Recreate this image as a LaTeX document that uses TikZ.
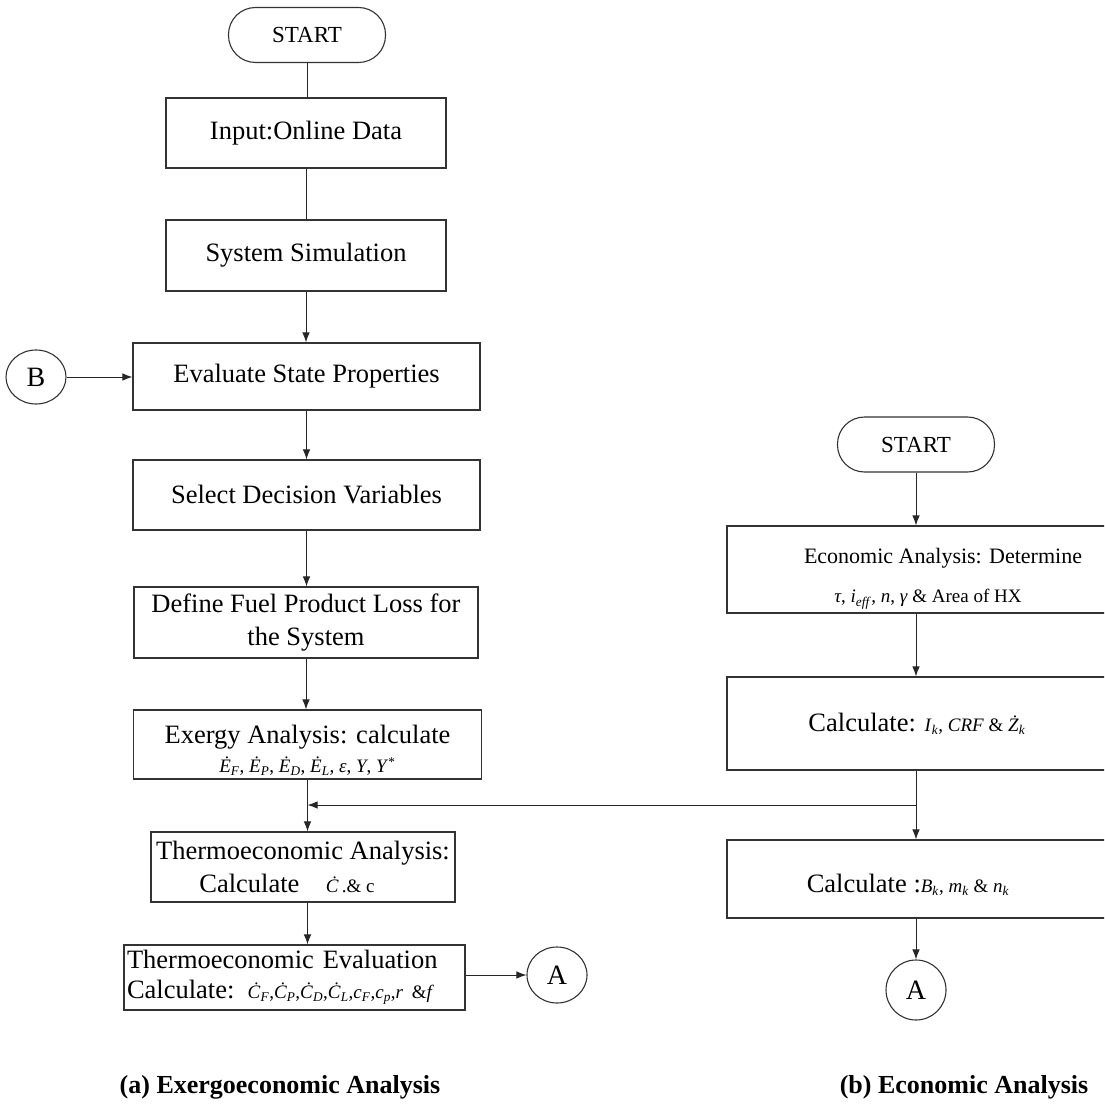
\documentclass[tikz,border=0pt]{standalone}
\usepackage{fontspec}
\setmainfont{Liberation Serif}
\usetikzlibrary{arrows.meta,shapes.geometric}
\newcommand\dE[2]{\textit{\.{#1}}\textsubscript{\textit{#2}}}
\newcommand\sbi[2]{\textit{#1}\textsubscript{\textit{#2}}}
\newcommand\mfont{\fontsize{19}{22}\selectfont}
\begin{document}
\begin{tikzpicture}[x=1pt,y=-1pt,
  box/.style={draw=black!80, line width=1.1pt, rectangle, inner sep=0pt, align=center,
    font=\fontsize{26.5}{33}\selectfont},
  term/.style={draw=black!80, line width=1.1pt, rounded corners=27pt, minimum width=157pt,
    minimum height=55pt, inner sep=0pt, font=\fontsize{23}{26}\selectfont},
  conn/.style={ellipse, draw=black!80, line width=1.1pt, minimum width=60pt, minimum height=54pt,
    inner sep=0pt, font=\fontsize{28}{30}\selectfont},
  arr/.style={-{Latex[length=10pt,width=7.5pt]}, line width=1pt, draw=black!85},
  ln/.style={line width=1pt, draw=black!85},
  captxt/.style={font=\fontsize{26}{30}\selectfont\bfseries}]
\useasboundingbox (0,0) rectangle (1104,1115);
\clip (0,0) rectangle (1104,1115);
% left column
\node[term] (sL) at (307,35) {START};
\node[box, minimum width=280pt, minimum height=70pt] (in) at (306,133) {Input:Online Data};
\node[box, minimum width=280pt, minimum height=71pt] (sim) at (306,255.5) {System Simulation};
\node[box, minimum width=347pt, minimum height=67pt] (ev) at (306.5,376.5) {Evaluate State Properties};
\node[box, minimum width=347pt, minimum height=70pt] (sel) at (306.5,495) {Select Decision Variables};
\node[box, minimum width=344pt, minimum height=71pt] (def) at (306,622.5) {Define Fuel Product Loss for\\the System};
\node[box, minimum width=348pt, minimum height=69pt] (exe) at (307.5,744.5)
  {\rule{0pt}{30pt}Exergy Analysis: calculate\\[-4pt]{\mfont \dE{E}{F}, \dE{E}{P}, \dE{E}{D}, \dE{E}{L}, \textit{ε}, \textit{Y}, \textit{Y}\textsuperscript{*}}};
\node[box, minimum width=304pt, minimum height=70pt] (tha) at (303,867)
  {Thermoeconomic Analysis:\\Calculate\quad{\mfont\textit{\.C}\,.\& c}\hspace*{32pt}};
\node[box, minimum width=341pt, minimum height=65pt, text width=335pt, align=left,
  font=\fontsize{26.5}{30}\selectfont] (tev) at (294.5,977.5)
  {Thermoeconomic Evaluation\\Calculate: {\mfont \dE{C}{F},\dE{C}{P},\dE{C}{D},\dE{C}{L},\sbi{c}{F},\sbi{c}{p},\textit{r} \&\textit{f}}};
\node[conn] (B) at (36,377) {B};
\node[conn, minimum height=56pt] (A1) at (557,975) {A};
% right column
\node[term] (sR) at (916,444.5) {START};
\node[box, minimum width=432pt, minimum height=87pt] (eco) at (943,569.5)
  {\rule{0pt}{34pt}{\fontsize{22}{26}\selectfont Economic Analysis: Determine}\\[6pt]{\mfont\textit{τ}, \sbi{i}{eff}, \textit{n}, \textit{γ} \& Area of HX}\hspace*{30pt}};
\node[box, minimum width=432pt, minimum height=93pt] (ci) at (943,723.5)
  {Calculate: {\mfont\sbi{I}{k}, \textit{CRF} \& \dE{Z}{k}}\hspace*{52pt}};
\node[box, minimum width=432pt, minimum height=78pt] (cb) at (943,879)
  {\rule{0pt}{30pt}Calculate :{\mfont\sbi{B}{k}, \sbi{m}{k} \& \sbi{n}{k}}\hspace*{70pt}};
\node[conn, minimum height=60pt] (A2) at (916,990) {A};
% captions
\node[captxt] (capa) at (280,1087) {(a) Exergoeconomic Analysis};
\node[captxt] (capb) at (964,1087) {(b) Economic Analysis};
% connectors left
\draw[ln] (sL.south) -- (sL.south |- in.north);
\draw[ln] (in.south) -- (in.south |- sim.north);
\draw[arr] (sim.south) -- (sim.south |- ev.north);
\draw[arr] (B.east) -- (ev.west |- B.east);
\draw[arr] (ev.south) -- (ev.south |- sel.north);
\draw[arr] (sel.south) -- (sel.south |- def.north);
\draw[arr] (def.south) -- (def.south |- exe.north);
\draw[arr] (exe.south) -- (exe.south |- tha.north);
\draw[arr] (tha.south -| exe.south) -- (exe.south |- tev.north);
\draw[arr] (tev.east |- A1.west) -- (A1.west);
% connectors right
\draw[arr] (sR.south) -- (sR.south |- eco.north);
\draw[arr] (eco.south -| sR.south) -- (sR.south |- ci.north);
\draw[arr] (ci.south -| sR.south) -- (sR.south |- cb.north);
\draw[arr] (cb.south -| sR.south) -- (A2.north);
\coordinate (jn) at (916,805);
\draw[arr] (jn) -- (jn -| exe.south);
\end{tikzpicture}
\end{document}
